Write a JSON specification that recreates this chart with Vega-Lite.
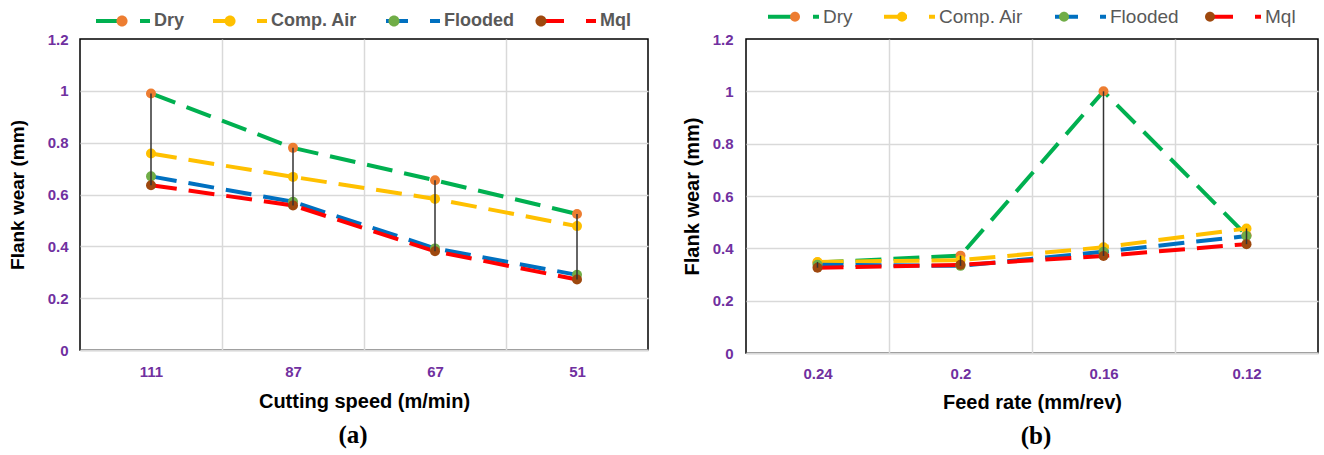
{
  "$schema": "https://vega.github.io/schema/vega-lite/v6.json",
  "background": "white",
  "padding": {"left": 7, "top": 6, "right": 0, "bottom": 0},
  "spacing": 32,
  "datasets": {
    "a": [
      {"level": 111, "cond": "Dry", "wear": 0.99},
      {"level": 87, "cond": "Dry", "wear": 0.78},
      {"level": 67, "cond": "Dry", "wear": 0.655},
      {"level": 51, "cond": "Dry", "wear": 0.525},
      {"level": 111, "cond": "Comp. Air", "wear": 0.758},
      {"level": 87, "cond": "Comp. Air", "wear": 0.668},
      {"level": 67, "cond": "Comp. Air", "wear": 0.583},
      {"level": 51, "cond": "Comp. Air", "wear": 0.478},
      {"level": 111, "cond": "Flooded", "wear": 0.67},
      {"level": 87, "cond": "Flooded", "wear": 0.572},
      {"level": 67, "cond": "Flooded", "wear": 0.392},
      {"level": 51, "cond": "Flooded", "wear": 0.29},
      {"level": 111, "cond": "Mql", "wear": 0.636},
      {"level": 87, "cond": "Mql", "wear": 0.558},
      {"level": 67, "cond": "Mql", "wear": 0.381},
      {"level": 51, "cond": "Mql", "wear": 0.272}
    ],
    "b": [
      {"level": 0.24, "cond": "Dry", "wear": 0.346},
      {"level": 0.2, "cond": "Dry", "wear": 0.372},
      {"level": 0.16, "cond": "Dry", "wear": 1.0},
      {"level": 0.12, "cond": "Dry", "wear": 0.45},
      {"level": 0.24, "cond": "Comp. Air", "wear": 0.348},
      {"level": 0.2, "cond": "Comp. Air", "wear": 0.355},
      {"level": 0.16, "cond": "Comp. Air", "wear": 0.404},
      {"level": 0.12, "cond": "Comp. Air", "wear": 0.476},
      {"level": 0.24, "cond": "Flooded", "wear": 0.337},
      {"level": 0.2, "cond": "Flooded", "wear": 0.333},
      {"level": 0.16, "cond": "Flooded", "wear": 0.387},
      {"level": 0.12, "cond": "Flooded", "wear": 0.447},
      {"level": 0.24, "cond": "Mql", "wear": 0.326},
      {"level": 0.2, "cond": "Mql", "wear": 0.337},
      {"level": 0.16, "cond": "Mql", "wear": 0.371},
      {"level": 0.12, "cond": "Mql", "wear": 0.416}
    ]
  },
  "hconcat": [
    {
      "width": 568,
      "height": 311,
      "data": {"name": "a"},
      "title": {"text": "(a)", "orient": "bottom", "font": "Liberation Serif", "fontSize": 25, "fontWeight": "bold", "color": "#000000", "offset": 12, "frame": "group", "anchor": "middle", "dx": -11},
      "encoding": {
        "x": {
          "field": "level", "type": "ordinal", "sort": "descending",
          "scale": {"type": "band", "paddingInner": 0, "paddingOuter": 0},
          "axis": {
            "title": "Cutting speed (m/min)", "labelAngle": 0,
            "labelFont": "Liberation Sans", "labelFontSize": 15, "labelFontWeight": "bold", "labelColor": "#7030A0", "labelPadding": 14,
            "ticks": false, "tickBand": "extent",
            "grid": true, "gridColor": "#D9D9D9", "gridWidth": 1.5,
            "gridOpacity": {"condition": {"test": "datum.extra || datum.value === 51", "value": 0}, "value": 1},
            "domainColor": "#D9D9D9", "domainWidth": 2,
            "titleFont": "Liberation Sans", "titleFontSize": 20, "titleFontWeight": "bold", "titleColor": "#000000", "titlePadding": 12
          }
        },
        "y": {
          "field": "wear", "type": "quantitative", "title": "Flank wear (mm)",
          "scale": {"domain": [0, 1.2]},
          "axis": {
            "title": "Flank wear (mm)", "values": [0, 0.2, 0.4, 0.6, 0.8, 1, 1.2], "format": "~g",
            "labelFont": "Liberation Sans", "labelFontSize": 15, "labelFontWeight": "bold", "labelColor": "#7030A0", "labelPadding": 12,
            "ticks": false, "domain": false,
            "grid": true, "gridColor": "#D9D9D9", "gridWidth": 1.5,
            "gridOpacity": {"condition": {"test": "datum.value > 1.1", "value": 0}, "value": 1},
            "titleFont": "Liberation Sans", "titleFontSize": 19, "titleFontWeight": "bold", "titleColor": "#000000", "titlePadding": 20
          }
        }
      },
      "layer": [
        {
          "mark": {"type": "line", "strokeWidth": 4, "strokeDash": [26, 12], "strokeCap": "butt"},
          "encoding": {
            "stroke": {
              "field": "cond", "type": "nominal",
              "scale": {"domain": ["Dry", "Comp. Air", "Flooded", "Mql"], "range": ["#00B050", "#FFC000", "#0070C0", "#FF0000"]},
              "legend": {
                "orient": "none", "legendX": 16, "legendY": -27, "direction": "horizontal", "title": null, "padding": 0,
                "symbolType": "M-1.29,0L1.86,0M5,0L6.43,0", "symbolSize": 196, "symbolStrokeWidth": 4, "symbolDash": [1, 0],
                "labelOffset": 40, "labelFont": "Liberation Sans", "labelFontSize": 18, "labelFontWeight": "bold", "labelColor": "#595959", "labelLimit": 300,
                "columnPadding": 19
              }
            },
            "order": {"field": "level", "sort": "descending"}
          }
        },
        {
          "mark": {"type": "point", "filled": true, "size": 100, "opacity": 1},
          "encoding": {
            "fill": {
              "field": "cond", "type": "nominal", "sort": ["Dry", "Comp. Air", "Flooded", "Mql"],
              "scale": {"range": ["#ED7D31", "#FFC000", "#70AD47", "#9E480E"]},
              "legend": {
                "orient": "none", "legendX": 16, "legendY": -27, "direction": "horizontal", "title": null, "padding": 0,
                "symbolType": "M1.64,0C1.64,-0.436,1.994,-0.79,2.43,-0.79C2.866,-0.79,3.22,-0.436,3.22,0C3.22,0.436,2.866,0.79,2.43,0.79C1.994,0.79,1.64,0.436,1.64,0Z",
                "symbolSize": 196, "symbolStrokeWidth": 0, "symbolStrokeColor": "transparent", "symbolOpacity": 1,
                "labelOffset": 40, "labelFont": "Liberation Sans", "labelFontSize": 18, "labelFontWeight": "bold", "labelColor": "#595959", "labelLimit": 300, "labelOpacity": 0,
                "columnPadding": 19
              }
            }
          }
        },
        {
          "mark": {"type": "rule", "color": "#333333", "strokeWidth": 1.5},
          "encoding": {
            "y": {"field": "wear", "aggregate": "max", "type": "quantitative", "title": "Flank wear (mm)"},
            "y2": {"field": "wear", "aggregate": "min"}
          }
        }
      ]
    },
    {
      "width": 572,
      "height": 314,
      "data": {"name": "b"},
      "title": {"text": "(b)", "orient": "bottom", "font": "Liberation Serif", "fontSize": 25, "fontWeight": "bold", "color": "#000000", "offset": 12, "frame": "group", "anchor": "middle", "dx": 4},
      "encoding": {
        "x": {
          "field": "level", "type": "ordinal", "sort": "descending",
          "scale": {"type": "band", "paddingInner": 0, "paddingOuter": 0},
          "axis": {
            "title": "Feed rate (mm/rev)", "labelAngle": 0,
            "labelFont": "Liberation Sans", "labelFontSize": 15, "labelFontWeight": "bold", "labelColor": "#7030A0", "labelPadding": 13,
            "ticks": false, "tickBand": "extent",
            "grid": true, "gridColor": "#D9D9D9", "gridWidth": 1.5,
            "gridOpacity": {"condition": {"test": "datum.extra || datum.value === 0.12", "value": 0}, "value": 1},
            "domainColor": "#D9D9D9", "domainWidth": 2,
            "titleFont": "Liberation Sans", "titleFontSize": 20, "titleFontWeight": "bold", "titleColor": "#000000", "titlePadding": 11
          }
        },
        "y": {
          "field": "wear", "type": "quantitative", "title": "Flank wear (mm)",
          "scale": {"domain": [0, 1.2]},
          "axis": {
            "title": "Flank wear (mm)", "values": [0, 0.2, 0.4, 0.6, 0.8, 1, 1.2], "format": "~g",
            "labelFont": "Liberation Sans", "labelFontSize": 15, "labelFontWeight": "bold", "labelColor": "#7030A0", "labelPadding": 13,
            "ticks": false, "domain": false,
            "grid": true, "gridColor": "#D9D9D9", "gridWidth": 1.5,
            "gridOpacity": {"condition": {"test": "datum.value > 1.1", "value": 0}, "value": 1},
            "titleFont": "Liberation Sans", "titleFontSize": 20, "titleFontWeight": "bold", "titleColor": "#000000", "titlePadding": 10
          }
        }
      },
      "layer": [
        {
          "mark": {"type": "line", "strokeWidth": 4, "strokeDash": [26, 12], "strokeCap": "butt"},
          "encoding": {
            "stroke": {
              "field": "cond", "type": "nominal",
              "scale": {"domain": ["Dry", "Comp. Air", "Flooded", "Mql"], "range": ["#00B050", "#FFC000", "#0070C0", "#FF0000"]},
              "legend": {
                "orient": "none", "legendX": 22, "legendY": -32, "direction": "horizontal", "title": null, "padding": 0,
                "symbolType": "M-1.36,0L1.93,0M5.07,0L5.93,0", "symbolSize": 196, "symbolStrokeWidth": 4, "symbolDash": [1, 0],
                "labelOffset": 36, "labelFont": "Liberation Sans", "labelFontSize": 19, "labelFontWeight": "normal", "labelColor": "#595959", "labelLimit": 300,
                "columnPadding": 22
              }
            },
            "order": {"field": "level", "sort": "descending"}
          }
        },
        {
          "mark": {"type": "point", "filled": true, "size": 100, "opacity": 1},
          "encoding": {
            "fill": {
              "field": "cond", "type": "nominal", "sort": ["Dry", "Comp. Air", "Flooded", "Mql"],
              "scale": {"range": ["#ED7D31", "#FFC000", "#70AD47", "#9E480E"]},
              "legend": {
                "orient": "none", "legendX": 22, "legendY": -32, "direction": "horizontal", "title": null, "padding": 0,
                "symbolType": "M1.79,0C1.79,-0.392,2.108,-0.71,2.5,-0.71C2.892,-0.71,3.21,-0.392,3.21,0C3.21,0.392,2.892,0.71,2.5,0.71C2.108,0.71,1.79,0.392,1.79,0Z",
                "symbolSize": 196, "symbolStrokeWidth": 0, "symbolStrokeColor": "transparent", "symbolOpacity": 1,
                "labelOffset": 36, "labelFont": "Liberation Sans", "labelFontSize": 19, "labelFontWeight": "normal", "labelColor": "#595959", "labelLimit": 300, "labelOpacity": 0,
                "columnPadding": 22
              }
            }
          }
        },
        {
          "mark": {"type": "rule", "color": "#333333", "strokeWidth": 1.5},
          "encoding": {
            "y": {"field": "wear", "aggregate": "max", "type": "quantitative", "title": "Flank wear (mm)"},
            "y2": {"field": "wear", "aggregate": "min"}
          }
        }
      ]
    }
  ],
  "resolve": {
    "scale": {"x": "independent", "y": "independent", "stroke": "independent", "fill": "independent"},
    "legend": {"stroke": "independent", "fill": "independent"},
    "axis": {"x": "independent", "y": "independent"}
  },
  "config": {
    "view": {"stroke": "#000000", "strokeWidth": 1.5},
    "font": "Liberation Sans"
  }
}
